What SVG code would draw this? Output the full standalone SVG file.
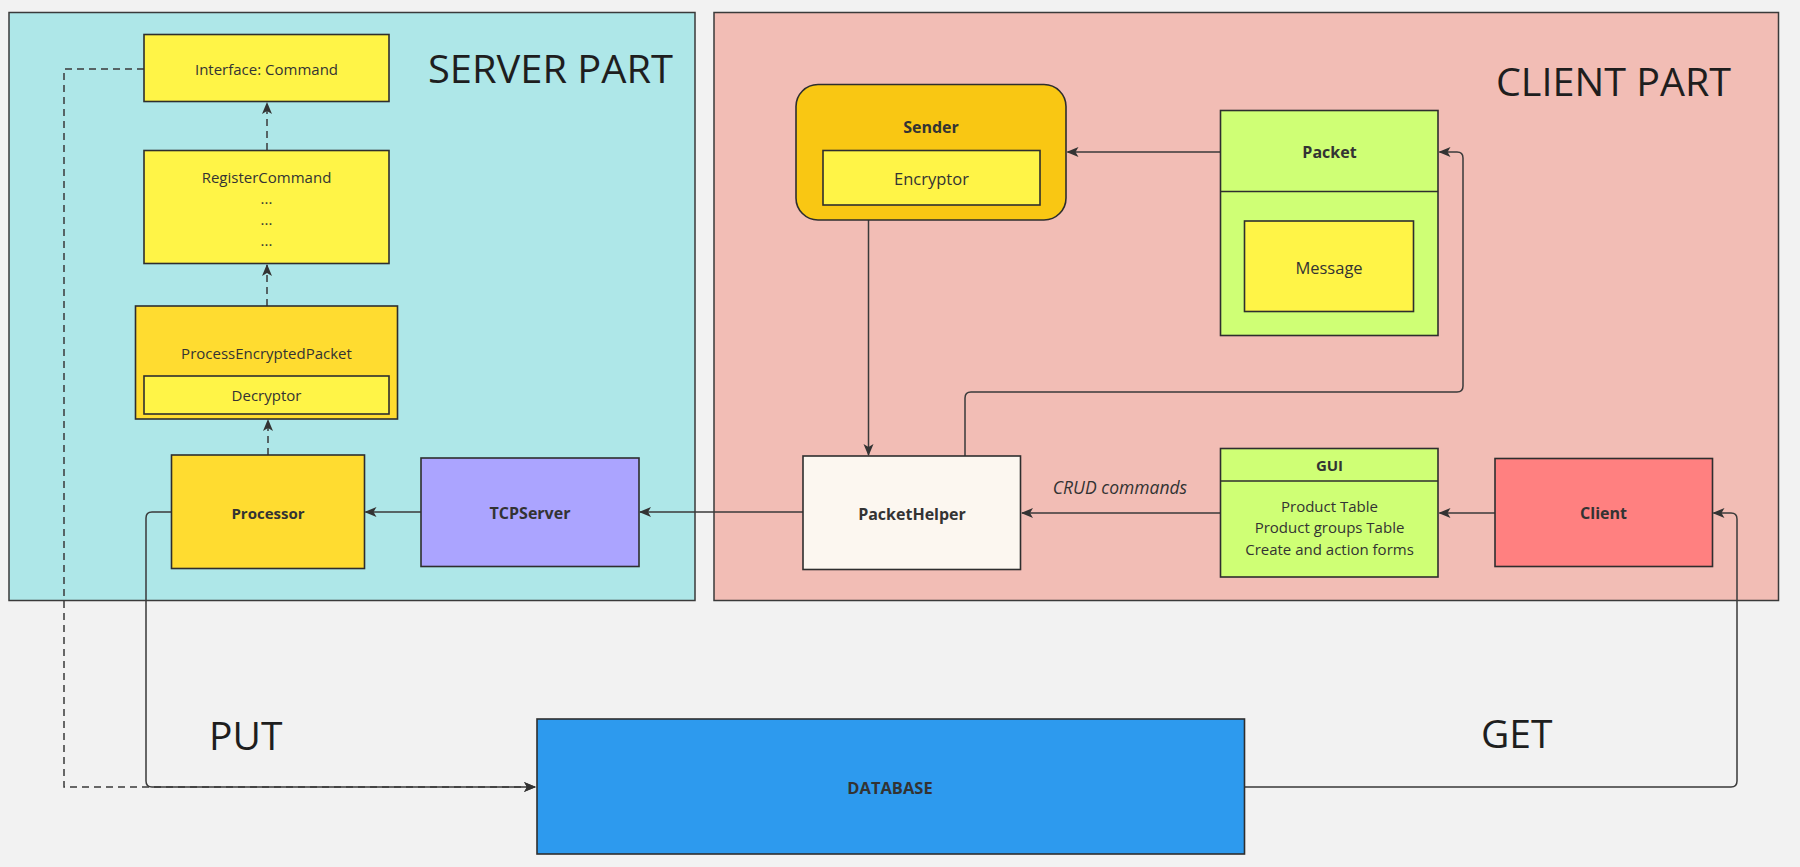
<svg xmlns="http://www.w3.org/2000/svg" width="1800" height="867" viewBox="0 0 1800 867">
<defs>
<style>
.panel{stroke:#3a3a3a;stroke-width:1.5}
.box{stroke:#2e2e2e;stroke-width:1.6}
.t{font-family:"Open Sans","Liberation Sans",sans-serif;font-size:15px;fill:#333;text-anchor:middle;dominant-baseline:central}
.b{font-weight:bold;font-size:16px}
.big{font-family:"Open Sans","Liberation Sans",sans-serif;font-size:39px;fill:#1e1e1e}
.c{fill:none;stroke:#3a3a3a;stroke-width:1.5}
.d{stroke-dasharray:7 5}
</style>
<marker id="ah" viewBox="0 0 12 12" refX="11" refY="6" markerWidth="12" markerHeight="12" markerUnits="userSpaceOnUse" orient="auto">
<path d="M0,1 L12,6 L0,11 L3,6 z" fill="#333"/>
</marker>
</defs>
<rect width="1800" height="867" fill="#f2f2f2"/>

<g id="server-part">
<rect class="panel" x="9" y="12.5" width="686" height="588" fill="#aee7e8"/>
<text class="big" x="428" y="83" textLength="245" lengthAdjust="spacingAndGlyphs">SERVER PART</text>
</g>
<g id="client-part">
<rect class="panel" x="714" y="12.5" width="1064.5" height="588" fill="#f2bdb5"/>
<text class="big" x="1496" y="96" textLength="235" lengthAdjust="spacingAndGlyphs">CLIENT PART</text>
</g>

<g id="connectors">
<path class="c d" d="M144,69 H64 V787 H535" marker-end="url(#ah)"/>
<path class="c" d="M171,512 H152 Q146,512 146,518 V781 Q146,787 152,787 H535" marker-end="url(#ah)"/>
<path class="c d" d="M267,150 V103" marker-end="url(#ah)"/>
<path class="c d" d="M267,306 V265" marker-end="url(#ah)"/>
<path class="c d" d="M268,455 V420" marker-end="url(#ah)"/>
<path class="c" d="M421,512 H365.5" marker-end="url(#ah)"/>
<path class="c" d="M803,512 H640" marker-end="url(#ah)"/>
<path class="c" d="M1220,513 H1022" marker-end="url(#ah)"/>
<path class="c" d="M1495,513 H1439.5" marker-end="url(#ah)"/>
<path class="c" d="M1244,787 H1731 Q1737,787 1737,781 V519 Q1737,513 1731,513 H1713.5" marker-end="url(#ah)"/>
<path class="c" d="M1220,152 H1067.5" marker-end="url(#ah)"/>
<path class="c" d="M868.5,205 V455" marker-end="url(#ah)"/>
<path class="c" d="M965,456 V398 Q965,392 971,392 H1457 Q1463,392 1463,386 V158 Q1463,152 1457,152 H1439.5" marker-end="url(#ah)"/>
<text class="t" x="1120" y="487" style="font-style:italic;font-size:17.5px">CRUD commands</text>
</g>

<g id="interface-command">
<rect class="box" x="144" y="34.5" width="245" height="67" fill="#fff447"/>
<text class="t" x="266.5" y="69">Interface: Command</text>
</g>
<g id="register-command">
<rect class="box" x="144" y="150.5" width="245" height="113" fill="#fff447"/>
<text class="t" x="266.5" y="177">RegisterCommand</text>
<text class="t" x="266.5" y="198">...</text>
<text class="t" x="266.5" y="219">...</text>
<text class="t" x="266.5" y="240">...</text>
</g>
<g id="process-encrypted-packet">
<rect class="box" x="135.5" y="306" width="262" height="113" fill="#ffdc30"/>
<text class="t" x="266.5" y="353">ProcessEncryptedPacket</text>
<rect class="box" x="144" y="376" width="245" height="38" fill="#fff447"/>
<text class="t" x="266.5" y="395">Decryptor</text>
</g>
<g id="processor">
<rect class="box" x="171.5" y="455" width="193" height="113.5" fill="#ffdc30"/>
<text class="t b" x="268" y="512.5" style="font-size:15px">Processor</text>
</g>
<g id="tcpserver">
<rect class="box" x="421" y="458" width="218" height="108.5" fill="#aba4ff"/>
<text class="t b" x="530" y="513">TCPServer</text>
</g>
<g id="sender">
<rect class="box" x="796" y="84.5" width="270" height="135.5" rx="22" fill="#f9c713"/>
<text class="t b" x="931" y="126.5">Sender</text>
<rect class="box" x="823" y="150.5" width="217" height="54.5" fill="#fff447"/>
<text class="t" x="931.5" y="178.5" style="font-size:16.5px">Encryptor</text>
</g>
<g id="packet">
<rect class="box" x="1220.5" y="110.5" width="217.5" height="225" fill="#cfff75"/>
<line class="box" x1="1220.5" y1="191.5" x2="1438" y2="191.5"/>
<text class="t b" x="1329.5" y="152">Packet</text>
<rect class="box" x="1244.5" y="221" width="169" height="90.5" fill="#fff447"/>
<text class="t" x="1329" y="267" style="font-size:16.5px">Message</text>
</g>
<g id="packethelper">
<rect class="box" x="803" y="456" width="217.5" height="113.5" fill="#fcf7f0"/>
<text class="t b" x="912" y="513.5">PacketHelper</text>
</g>
<g id="gui">
<rect class="box" x="1220.5" y="448.5" width="217.5" height="128.5" fill="#cfff75"/>
<line class="box" x1="1220.5" y1="481" x2="1438" y2="481"/>
<text class="t b" x="1329.5" y="465" style="font-size:15px">GUI</text>
<text class="t" x="1329.5" y="505.5">Product Table</text>
<text class="t" x="1329.5" y="527">Product groups Table</text>
<text class="t" x="1329.5" y="548.5">Create and action forms</text>
</g>
<g id="client">
<rect class="box" x="1495" y="458.5" width="217.5" height="108" fill="#ff8080"/>
<text class="t b" x="1603.5" y="513">Client</text>
</g>
<g id="database">
<rect class="box" x="537" y="719" width="707.5" height="135" fill="#2d9aee"/>
<text class="t b" x="890" y="787" style="font-size:16.5px">DATABASE</text>
</g>
<g id="labels">
<text class="big" x="209" y="750">PUT</text>
<text class="big" x="1481" y="748">GET</text>
</g>
</svg>
